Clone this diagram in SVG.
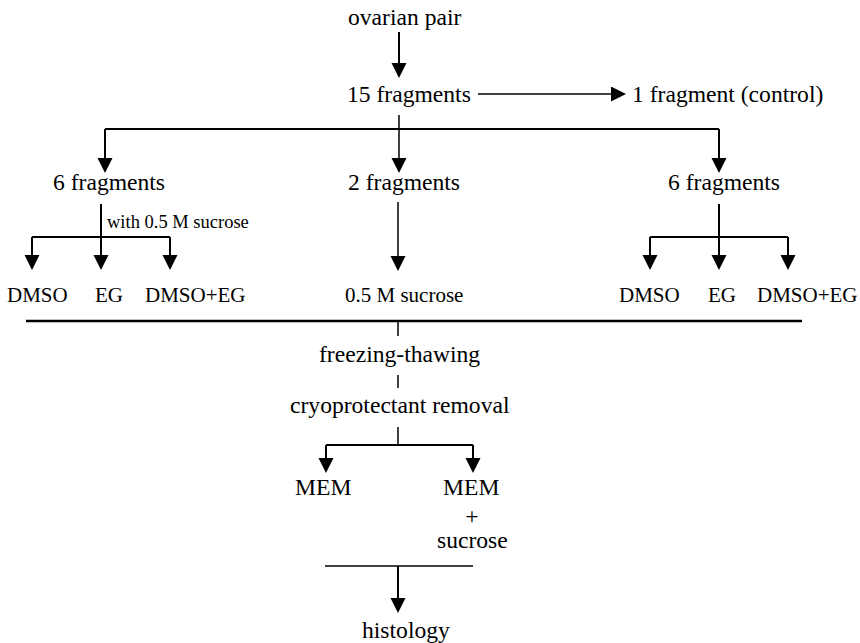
<svg xmlns="http://www.w3.org/2000/svg" width="860" height="643" viewBox="0 0 860 643">
<style>
text{font-family:'Liberation Serif','Times New Roman','DejaVu Serif',serif;fill:#000}
.m{font-size:23.6px}
.l{font-size:21px}
.s{font-size:18.5px}
.c{stroke:#000;stroke-width:2;fill:none}
.t{stroke:#000;stroke-width:1.5;fill:none}
.a{marker-end:url(#ah)}
</style>
<defs>
<marker id="ah" markerUnits="userSpaceOnUse" markerWidth="16" markerHeight="16" refX="6" refY="7.5" orient="auto">
<path d="M0,0 L15,7.5 L0,15 Z" fill="#000"/>
</marker>
</defs>
<g id="connectors">
<line class="c a" x1="399" y1="32" x2="399" y2="69"/>
<line class="t a" x1="478" y1="94" x2="617" y2="94"/>
<line class="t" x1="399" y1="115" x2="399" y2="129"/>
<line class="c" x1="105" y1="129" x2="719" y2="129"/>
<line class="c a" x1="105" y1="129" x2="105" y2="164"/>
<line class="t a" x1="399" y1="129" x2="399" y2="164"/>
<line class="c a" x1="719" y1="129" x2="719" y2="164"/>
<line class="c a" x1="101" y1="204" x2="101" y2="261"/>
<line class="c" x1="32" y1="237" x2="170" y2="237"/>
<line class="c a" x1="32" y1="237" x2="32" y2="261"/>
<line class="c a" x1="170" y1="237" x2="170" y2="261"/>
<line class="t a" x1="398" y1="202" x2="398" y2="262"/>
<line class="c a" x1="719" y1="204" x2="719" y2="261"/>
<line class="c" x1="650" y1="237" x2="788" y2="237"/>
<line class="c a" x1="650" y1="237" x2="650" y2="261"/>
<line class="c a" x1="788" y1="237" x2="788" y2="261"/>
<line class="c" x1="26" y1="321" x2="802" y2="321" style="stroke-width:2.5"/>
<line class="t" x1="398" y1="321" x2="398" y2="336"/>
<line class="t" x1="398" y1="375" x2="398" y2="388"/>
<line class="t" x1="398" y1="427" x2="398" y2="445"/>
<line class="c" x1="326" y1="445" x2="473" y2="445"/>
<line class="c a" x1="326" y1="445" x2="326" y2="464"/>
<line class="c a" x1="473" y1="445" x2="473" y2="464"/>
<line class="t" x1="325" y1="566" x2="473" y2="566"/>
<line class="c a" x1="398" y1="566" x2="398" y2="604"/>
</g>
<g id="n-ovarian"><text class="m" x="348" y="25">ovarian pair</text></g>
<g id="n-15"><text class="m" x="347" y="102">15 fragments</text></g>
<g id="n-control"><text class="m" x="632" y="102">1 fragment (control)</text></g>
<g id="n-6a"><text class="m" x="53" y="190">6 fragments</text></g>
<g id="n-2"><text class="m" x="348" y="190">2 fragments</text></g>
<g id="n-6b"><text class="m" x="668" y="190">6 fragments</text></g>
<g id="lbl-sucrose"><text class="s" x="107" y="228">with 0.5 M sucrose</text></g>
<g id="n-dmso-a"><text class="l" x="7" y="302">DMSO</text></g>
<g id="n-eg-a"><text class="l" x="95" y="302">EG</text></g>
<g id="n-dmsoeg-a"><text class="l" x="145" y="302">DMSO+EG</text></g>
<g id="n-suc"><text class="l" x="345" y="302">0.5 M sucrose</text></g>
<g id="n-dmso-b"><text class="l" x="619" y="302">DMSO</text></g>
<g id="n-eg-b"><text class="l" x="708" y="302">EG</text></g>
<g id="n-dmsoeg-b"><text class="l" x="757" y="302">DMSO+EG</text></g>
<g id="n-freeze"><text class="m" x="319" y="362">freezing-thawing</text></g>
<g id="n-cryo"><text class="m" x="290" y="413">cryoprotectant removal</text></g>
<g id="n-mem"><text class="m" x="295" y="495">MEM</text></g>
<g id="n-memsuc"><text class="m" x="443" y="495">MEM</text><text class="m" x="472" y="524" text-anchor="middle">+</text><text class="m" x="437" y="548">sucrose</text></g>
<g id="n-histo"><text class="m" x="362" y="638">histology</text></g>
</svg>
